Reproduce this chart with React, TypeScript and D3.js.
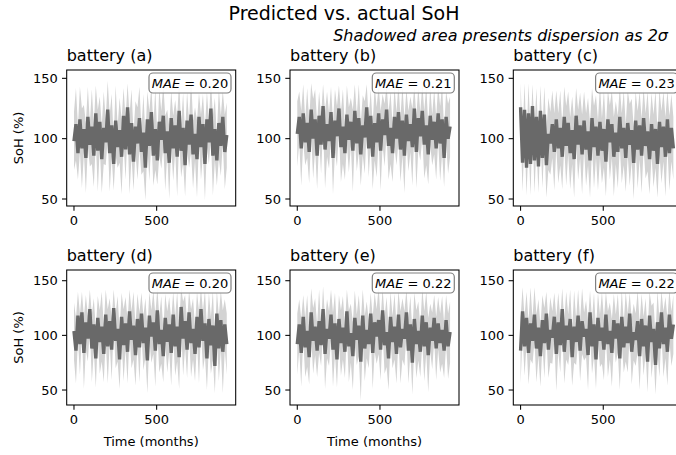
import React from 'react';
import * as d3 from 'd3';

const batteryNames = ['a', 'b', 'c', 'd', 'e', 'f'];
const maeValues = ['0.20', '0.21', '0.23', '0.20', '0.22', '0.22'];
const xTicks = [0, 500];
const yTicks = [50, 100, 150];
const monthStep = 12;

const predA = [98,112,88,116,92,108,84,118,95,110,86,121,90,114,83,109,97,124,88,111,79,115,93,107,85,119,91,126,87,113,81,110,96,117,89,105,76,116,94,122,86,108,82,114,99,119,88,106,80,117,92,111,85,123,90,109,78,115,95,120,87,104,83,118,93,112,79,116,97,125,86,108,82,113,94,118,89,103];
const spreadA = [24,30,22,27,33,20,29,25,18,31,26,23,34,21,28,30,19,24,32,26,22,29,17,27,31,23,25,20,33,28,24,21,30,26,19,32,27,23,29,22,25,34,20,28,24,26,31,18,30,23,27,21,33,25,22,29,26,24,19,31,28,22,32,20,27,25,30,23,18,24,33,26,21,29,25,22,31,27];

const predB = [104,118,92,121,97,113,89,124,100,116,86,119,95,127,91,112,98,122,84,115,102,125,93,110,88,120,99,114,90,123,96,117,87,111,101,126,92,119,85,113,97,121,90,116,103,124,94,109,88,118,100,122,91,115,86,120,98,112,93,125,89,117,102,123,95,111,87,119,99,114,92,121,96,116,84,118,100,110];
const spreadB = [27,21,31,24,19,29,26,22,33,25,28,20,24,18,32,27,23,21,30,26,25,19,29,31,22,24,27,20,34,22,23,28,26,25,30,19,24,22,27,31,29,23,33,21,26,20,28,30,24,25,22,24,27,29,31,21,25,23,32,18,30,26,20,22,28,33,25,24,21,27,26,23,31,28,24,21,29,25];

const predC = [126,80,124,76,121,79,127,82,118,77,123,84,120,78,104,96,112,89,116,92,109,85,118,94,113,88,107,83,119,95,111,87,115,91,106,82,117,93,110,86,114,90,108,81,116,97,112,85,105,89,118,92,109,84,113,95,107,80,115,91,111,86,117,94,106,83,112,90,108,79,114,93,110,85,116,88,109,92];
const spreadC = [20,24,22,23,25,26,18,27,24,22,21,25,23,27,30,26,28,32,24,29,31,27,25,33,26,30,28,32,23,29,27,33,24,30,28,31,25,34,26,29,30,27,32,29,24,31,28,33,26,30,25,29,31,28,27,34,26,30,24,32,28,31,25,27,33,29,26,30,32,28,27,30,29,33,24,31,28,26];

const predD = [104,86,118,92,121,84,112,97,124,88,110,79,116,94,108,83,119,90,113,87,125,95,106,78,117,91,111,85,122,96,109,82,115,89,120,93,107,77,118,99,112,86,123,92,105,81,116,94,110,84,119,90,108,80,126,97,113,87,121,93,106,83,117,89,124,95,111,79,115,91,109,72,120,88,114,85,110,92];
const spreadD = [26,30,22,28,19,33,25,21,18,31,24,27,20,29,32,26,23,34,21,28,17,25,30,27,22,33,24,29,20,26,31,28,23,32,19,25,27,30,22,24,29,33,20,26,31,24,22,28,25,30,21,27,32,29,18,34,24,26,20,31,28,25,23,33,19,27,30,29,24,26,32,25,21,30,27,38,23,28];

const predE = [92,110,84,117,89,104,80,121,95,108,86,113,91,124,83,106,97,119,87,111,78,115,93,107,85,122,90,102,81,116,96,109,76,118,88,105,92,120,84,112,99,114,87,123,91,103,79,117,94,108,83,119,89,106,97,121,86,110,75,115,92,104,85,118,90,112,82,107,95,116,88,111,93,105,86,114,90,103];
const spreadE = [28,23,31,20,27,33,25,22,30,26,24,29,19,21,32,27,25,23,34,28,26,22,30,29,24,20,33,27,31,25,23,28,36,24,30,26,22,19,33,27,25,31,28,20,26,32,29,23,24,30,27,22,33,28,25,21,30,26,29,24,31,27,23,25,32,28,34,22,26,21,29,24,27,31,25,23,30,28];

const predF = [86,122,90,116,84,111,95,119,88,107,81,114,93,120,87,105,98,117,83,112,91,124,85,109,96,115,80,108,94,118,86,113,99,106,82,121,90,110,78,116,95,107,87,119,92,104,84,114,97,111,79,117,89,108,93,120,85,103,96,113,81,115,90,109,76,118,94,106,73,112,88,121,92,107,85,119,97,110];
const spreadF = [30,22,27,24,29,33,21,25,31,26,28,23,32,20,26,30,24,22,34,27,25,19,29,31,23,27,26,33,21,24,28,30,22,26,32,20,25,29,27,23,24,33,28,21,30,26,31,24,22,27,29,25,23,32,27,19,30,26,24,28,31,23,27,25,28,22,33,24,27,29,26,20,30,28,31,23,25,27];

const predSeries = [predA, predB, predC, predD, predE, predF];
const spreadSeries = [spreadA, spreadB, spreadC, spreadD, spreadE, spreadF];

const FONT = 'DejaVu Sans, sans-serif';
const colLefts = [66.7, 290, 513.3];
const colW = 169;
const rowTops = [70, 270];
const rowHs = [136, 135];
const yDomains: [number, number][] = [[44.2, 156.9], [36.3, 159.8]];
const xDomain: [number, number] = [-44, 978];

function Panel({ idx }: { idx: number }) {
  const row = Math.floor(idx / 3);
  const col = idx % 3;
  const left = colLefts[col];
  const top = rowTops[row];
  const h = rowHs[row];
  const x = d3.scaleLinear().domain(xDomain).range([left, left + colW]);
  const y = d3.scaleLinear().domain(yDomains[row]).range([top + h, top]);
  const pred = predSeries[idx];
  const spread = spreadSeries[idx];
  const pts = pred.map((v, i) => ({ m: i * monthStep, v, s: spread[i] }));
  const area = d3.area<any>().x(d => x(d.m)).y0(d => y(d.v - d.s)).y1(d => y(d.v + d.s));
  const line = d3.line<any>().x(d => x(d.m)).y(d => y(d.v));
  const clipId = `clip${idx}`;
  const tickLen = 4.7;
  const fs = 13;
  const boxW = 82, boxH = 20;
  const boxX = left + colW - 4.7 - boxW;
  const boxY = top + 3;
  return (
    <g>
      <defs>
        <clipPath id={clipId}>
          <rect x={left} y={top} width={colW} height={h} />
        </clipPath>
      </defs>
      <g clipPath={`url(#${clipId})`}>
        <path d={area(pts) || ''} fill="#d3d3d3" stroke="none" />
        <path d={line(pts) || ''} fill="none" stroke="#696969" strokeWidth={3.4} strokeLinejoin="miter" strokeMiterlimit={2} />
      </g>
      <rect x={left} y={top} width={colW} height={h} fill="none" stroke="#000" strokeWidth={1.05} />
      {yTicks.map(t => (
        <g key={'y' + t}>
          <line x1={left - tickLen} x2={left} y1={y(t)} y2={y(t)} stroke="#000" strokeWidth={1.05} />
          <text x={left - tickLen - 4.2} y={y(t)} dy="0.36em" textAnchor="end" fontFamily={FONT} fontSize={fs} fill="#000">{t}</text>
        </g>
      ))}
      {xTicks.map(t => (
        <g key={'x' + t}>
          <line x1={x(t)} x2={x(t)} y1={top + h} y2={top + h + tickLen} stroke="#000" strokeWidth={1.05} />
          <text x={x(t)} y={top + h + tickLen + 4.5 + fs * 0.76} textAnchor="middle" fontFamily={FONT} fontSize={fs} fill="#000">{t}</text>
        </g>
      ))}
      <text x={left} y={top - 9} fontFamily={FONT} fontSize={16} fill="#000">{`battery (${batteryNames[idx]})`}</text>
      <rect x={boxX} y={boxY} width={boxW} height={boxH} rx={4} ry={4} fill="#fff" fillOpacity={0.85} stroke="#808080" strokeWidth={1.2} />
      <text x={boxX + boxW / 2} y={boxY + boxH / 2} dy="0.36em" textAnchor="middle" fontFamily={FONT} fontSize={fs} fill="#000">
        <tspan fontStyle="italic">MAE</tspan>
        <tspan>{` = ${maeValues[idx]}`}</tspan>
      </text>
      {col === 0 && (
        <text transform={`translate(${18},${top + h / 2}) rotate(-90)`} textAnchor="middle" dy="0.36em" fontFamily={FONT} fontSize={fs} fill="#000">SoH (%)</text>
      )}
      {row === 1 && col < 2 && (
        <text x={left + colW / 2} y={446} textAnchor="middle" fontFamily={FONT} fontSize={fs} fill="#000">Time (months)</text>
      )}
    </g>
  );
}

export default function App() {
  return (
    <svg width={676} height={455} style={{ position: 'absolute', left: 0, top: 0, background: '#fff' }}>
      <rect x={0} y={0} width={676} height={455} fill="#fff" />
      <text x={344} y={20} textAnchor="middle" fontFamily={FONT} fontSize={19} fill="#000">Predicted vs. actual SoH</text>
      <text x={668} y={41} textAnchor="end" fontFamily={FONT} fontSize={16} fontStyle="italic" fill="#000">Shadowed area presents dispersion as 2σ</text>
      {batteryNames.map((_, i) => <Panel key={i} idx={i} />)}
    </svg>
  );
}
